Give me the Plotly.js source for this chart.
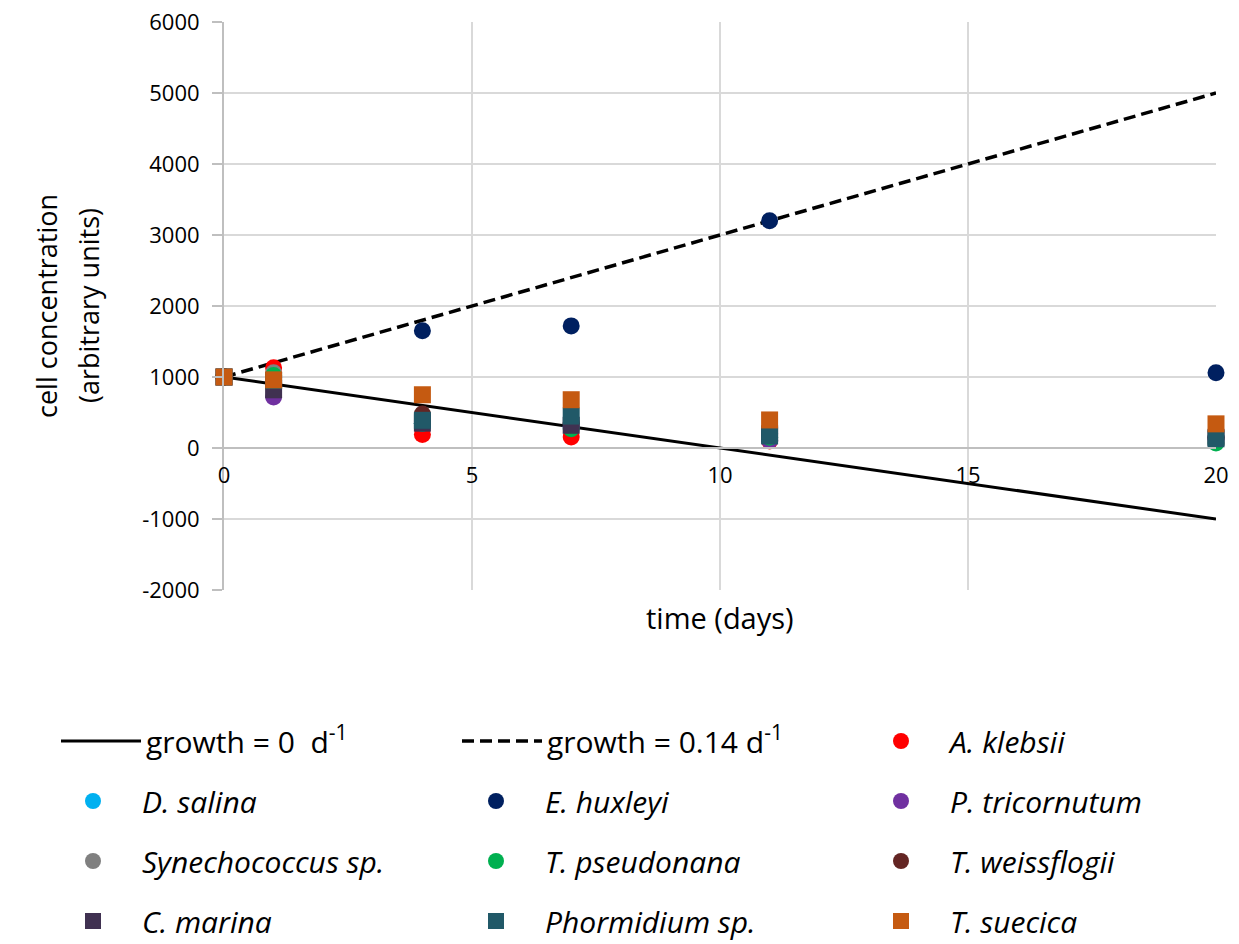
<!DOCTYPE html>
<html>
<head>
<meta charset="utf-8">
<script src="https://cdn.plot.ly/plotly-3.0.1.min.js"></script>
<style>html,body{margin:0;padding:0;background:#fff;}#chart{width:1239px;height:944px;}</style>
</head>
<body>
<div id="chart"></div>
<script>
// ---- data ----
const days = [0, 1, 4, 7, 11, 20];
const lineDays = [0, 20];
const growth0 = [1000, -1000];
const growth014 = [1000, 5000];

const aKlebsii      = [1000, 1130, 190, 155, 100, 140];
const dSalina       = [1000, 1000, 350, 300, 200, 150];
const eHuxleyi      = [1000, 1000, 1650, 1720, 3200, 1060];
const pTricornutum  = [1000, 720, 350, 300, 110, 120];
const synechococcus = [1000, 1060, 380, 350, 200, 150];
const tPseudonana   = [1000, 1020, 350, 270, 150, 70];
const tWeissflogii  = [1000, 950, 480, 350, 200, 150];
const cMarina       = [1000, 820, 350, 320, 200, 150];
const phormidium    = [1000, 950, 390, 450, 170, 130];
const tSuecica      = [1000, 960, 750, 680, 395, 340];

const xTicks = [0, 5, 10, 15, 20];
const yTicks = [-2000, -1000, 0, 1000, 2000, 3000, 4000, 5000, 6000];

// ---- traces ----
function pts(name, y, color, symbol, legend) {
  return {
    x: days, y: y, name: name, type: 'scatter', mode: 'markers',
    marker: {color: color, size: 17, symbol: symbol},
    cliponaxis: false, legend: legend
  };
}
const traces = [
  {x: lineDays, y: growth0, name: 'growth = 0  d<sup>-1</sup>', type: 'scatter', mode: 'lines',
   line: {color: '#000', width: 3}, legend: 'legend'},
  {x: lineDays, y: growth014, name: 'growth = 0.14 d<sup>-1</sup>', type: 'scatter', mode: 'lines',
   line: {color: '#000', width: 3.5, dash: '12px,6px'}, legend: 'legend2'},
  pts('<i>A. klebsii</i>', aKlebsii, '#FF0000', 'circle', 'legend3'),
  pts('<i>D. salina</i>', dSalina, '#00B0F0', 'circle', 'legend4'),
  pts('<i>E. huxleyi</i>', eHuxleyi, '#002060', 'circle', 'legend5'),
  pts('<i>P. tricornutum</i>', pTricornutum, '#7030A0', 'circle', 'legend6'),
  pts('<i>Synechococcus sp.</i>', synechococcus, '#808080', 'circle', 'legend7'),
  pts('<i>T. pseudonana</i>', tPseudonana, '#00B050', 'circle', 'legend8'),
  pts('<i>T. weissflogii</i>', tWeissflogii, '#632523', 'circle', 'legend9'),
  pts('<i>C. marina</i>', cMarina, '#403151', 'square', 'legend10'),
  pts('<i>Phormidium sp.</i>', phormidium, '#215968', 'square', 'legend11'),
  pts('<i>T. suecica</i>', tSuecica, '#C55A11', 'square', 'legend12')
];

function leg(xPx, yPx, w) {
  return {
    orientation: 'v', xref: 'container', yref: 'container',
    x: xPx / 1239, xanchor: 'left', y: 1 - yPx / 944, yanchor: 'middle',
    itemwidth: w,
    font: {family: 'Open Sans, sans-serif', size: 30, color: '#000'},
    bgcolor: 'rgba(0,0,0,0)'
  };
}

const colX = [44, 447, 852];
const rowY = [741, 801, 861, 921];

const layout = {
  width: 1239, height: 944,
  margin: {l: 224, r: 23, t: 22, b: 354, autoexpand: false},
  paper_bgcolor: '#fff', plot_bgcolor: '#fff',
  font: {family: 'Open Sans, sans-serif', color: '#000'},
  showlegend: true,
  xaxis: {
    range: [0, 20], tickvals: xTicks, ticktext: xTicks.map(String),
    showgrid: true, gridcolor: '#d9d9d9', gridwidth: 2,
    zeroline: false, showline: true, linecolor: '#bfbfbf', linewidth: 2,
    anchor: 'free', position: 0.25, automargin: false,
    ticks: '', ticklabelstandoff: 8, tickangle: 0, tickfont: {size: 22, color: '#000'}
  },
  yaxis: {
    range: [-2000, 6000], tickvals: yTicks, ticktext: yTicks.map(String),
    showgrid: true, gridcolor: '#d9d9d9', gridwidth: 2,
    zeroline: false, showline: true, linecolor: '#bfbfbf', linewidth: 2,
    ticks: 'outside', ticklen: 10, tickcolor: '#bfbfbf', tickwidth: 2, ticklabelstandoff: 8,
    tickfont: {size: 22, color: '#000'}, domain: [0, 1], automargin: false
  },
  legend:   leg(56, rowY[0], 80),
  legend2:  leg(457, rowY[0], 80),
  legend3:  leg(colX[2], rowY[0], 88),
  legend4:  leg(colX[0], rowY[1], 88),
  legend5:  leg(colX[1], rowY[1], 88),
  legend6:  leg(colX[2], rowY[1], 88),
  legend7:  leg(colX[0], rowY[2], 88),
  legend8:  leg(colX[1], rowY[2], 88),
  legend9:  leg(colX[2], rowY[2], 88),
  legend10: leg(colX[0], rowY[3], 88),
  legend11: leg(colX[1], rowY[3], 88),
  legend12: leg(colX[2], rowY[3], 88),
  annotations: [
    {text: 'time (days)', xref: 'paper', yref: 'paper', x: 0.5, y: 0, yanchor: 'top', yshift: -6,
     showarrow: false, font: {size: 29, color: '#000'}},
    {text: 'cell concentration', xref: 'paper', yref: 'paper', x: (46 - 224) / 992, y: 0.5,
     xanchor: 'center', yanchor: 'middle', textangle: -90, showarrow: false, font: {size: 27, color: '#000'}},
    {text: '(arbitrary units)', xref: 'paper', yref: 'paper', x: (88 - 224) / 992, y: 0.5,
     xanchor: 'center', yanchor: 'middle', textangle: -90, showarrow: false, font: {size: 27, color: '#000'}}
  ]
};

Plotly.newPlot('chart', traces, layout, {displayModeBar: false});
</script>
</body>
</html>
